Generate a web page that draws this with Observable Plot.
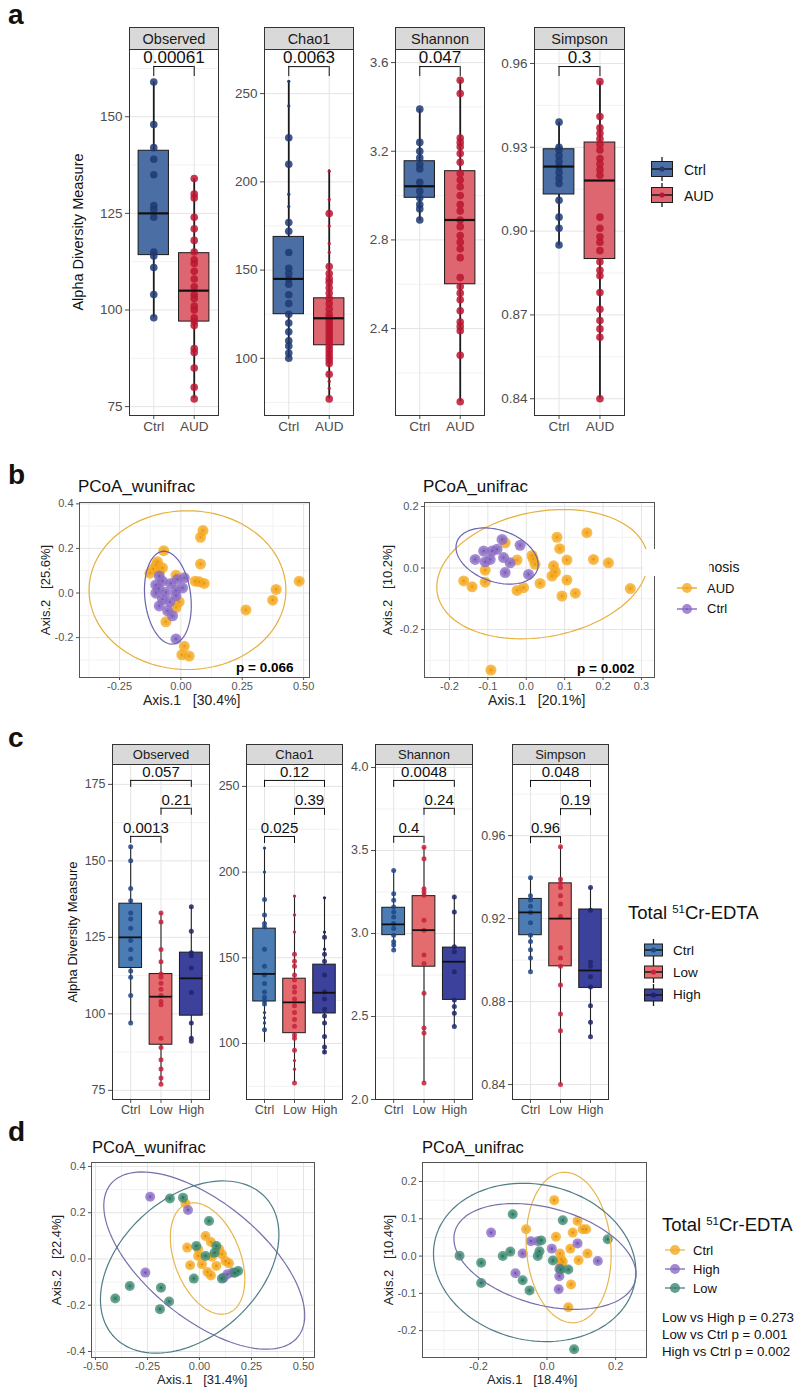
<!DOCTYPE html>
<html><head><meta charset="utf-8">
<script src="https://cdn.jsdelivr.net/npm/d3@7"></script>
<script src="https://cdn.jsdelivr.net/npm/@observablehq/plot@0.6"></script>
<style>
body{margin:0;background:#fff;}
#fig{position:relative;width:800px;height:1391px;overflow:hidden;background:#fff;font-family:'Liberation Sans',Arial,Helvetica,sans-serif;color:#111;}
.t{position:absolute;line-height:1;white-space:pre;}
.strip{position:absolute;background:#d9d9d9;border:1px solid #333;box-sizing:border-box;display:flex;align-items:center;justify-content:center;color:#1a1a1a;}
.rot{position:absolute;line-height:1;white-space:pre;transform:translate(-50%,-50%) rotate(-90deg);}
</style></head>
<body><div id="fig"></div>
<script>
// ---------------- DATA ----------------
// Panel a: Ctrl vs AUD
const groupsA = ["Ctrl", "AUD"];
const metricNames = ["Observed", "Chao1", "Shannon", "Simpson"];
const pA = ["0.00061", "0.0063", "0.047", "0.3"];
const aObsCtrl = [159, 148, 142, 139, 135, 127, 126, 124, 115, 114, 111, 104, 98];
const aObsAUD = [134, 130, 129, 124, 121, 118, 115, 113, 112, 110, 108, 106, 104, 103, 101, 100, 98, 97, 96, 90, 89, 85, 80, 77];
const aObsBox = [[98, 114.2, 125, 141.2, 159], [77, 97, 105, 114.7, 134]];
const aChaoCtrl = [225, 210, 177, 172, 160, 151, 148, 145, 142, 136, 131, 125, 120, 115, 110, 107, 103, 100];
const aChaoCtrlSe = [257, 243, 193, 186];
const aChaoAUD = [182, 152, 148, 145, 143, 140, 137, 134, 131, 128, 125, 123, 121, 119, 117, 115, 113, 111, 109, 107, 105, 103, 101, 99, 97, 91, 77];
const aChaoAUDSe = [206, 190, 175, 165, 160, 87, 83];
const aChaoBox = [[100, 125, 145, 168.8, 257], [77, 107.4, 122.7, 134, 206.8]];
const aShanCtrl = [3.39, 3.24, 3.20, 3.17, 3.14, 3.12, 3.06, 3.02, 2.99, 2.96, 2.94, 2.89];
const aShanAUD = [3.52, 3.46, 3.26, 3.24, 3.22, 3.19, 3.15, 3.10, 3.07, 3.04, 3.0, 2.96, 2.93, 2.89, 2.86, 2.82, 2.79, 2.76, 2.72, 2.63, 2.59, 2.56, 2.53, 2.48, 2.43, 2.41, 2.39, 2.28, 2.07];
const aShanBox = [[2.886, 2.99, 3.042, 3.155, 3.39], [2.07, 2.60, 2.89, 3.11, 3.52]];
const aSimpCtrl = [0.939, 0.930, 0.929, 0.927, 0.925, 0.923, 0.921, 0.919, 0.917, 0.911, 0.905, 0.901, 0.895];
const aSimpAUD = [0.9535, 0.941, 0.937, 0.935, 0.933, 0.931, 0.929, 0.926, 0.924, 0.922, 0.920, 0.905, 0.901, 0.898, 0.896, 0.893, 0.889, 0.886, 0.884, 0.878, 0.872, 0.868, 0.865, 0.862, 0.84];
const aSimpBox = [[0.8948, 0.9131, 0.9231, 0.9293, 0.9389], [0.84, 0.890, 0.9181, 0.9317, 0.9535]];
const aBracketY = [163, 265.3, 3.582, 0.9589];

// Panel b: PCoA by diagnosis
const bWunifracAUD = [[0.09,0.28],[0.08,0.25],[-0.07,0.19],[0.08,0.13],[-0.10,0.127],[-0.113,0.108],[-0.088,0.093],[-0.075,0.113],[-0.02,0.08],[0.058,0.053],[0.095,0.043],[0.482,0.053],[0.388,0.016],[0.374,-0.032],[0.265,-0.076],[-0.007,-0.04],[-0.02,-0.065],[-0.061,-0.129],[0.014,-0.239],[0.004,-0.277],[0.034,-0.283],[-0.126,0.089],[0.075,0.05],[-0.095,0.14]];
const bWunifracCtrl = [[-0.102,0.036],[-0.075,0.053],[-0.041,0.043],[-0.014,0.061],[0.014,0.068],[-0.102,-0.001],[-0.061,0.003],[-0.02,0.012],[0.007,0.023],[-0.088,-0.058],[-0.054,-0.08],[-0.034,-0.102],[-0.075,-0.028],[-0.02,-0.013],[-0.02,-0.206],[-0.088,0.076],[-0.045,-0.04],[-0.09,0.02]];
const bUnifracAUD = [[0.08,0.10],[0.158,0.115],[0.087,0.063],[0.106,0.026],[0.175,0.028],[0.214,0.017],[-0.024,0.026],[-0.107,-0.007],[0.015,0.041],[0.023,0.012],[0.071,0.007],[0.076,-0.013],[0.067,-0.026],[0.106,-0.039],[0.036,-0.05],[-0.163,-0.042],[-0.141,-0.061],[-0.107,-0.046],[-0.024,-0.073],[-0.007,-0.064],[0.093,-0.091],[0.128,-0.082],[0.271,-0.067],[-0.092,-0.332],[-0.055,0.082],[0.018,0.03]];
const bUnifracCtrl = [[-0.063,0.093],[-0.111,0.055],[-0.133,0.028],[-0.094,0.028],[-0.076,0.061],[-0.059,0.034],[-0.042,0.017],[-0.055,-0.015],[-0.016,0.074],[0.006,-0.021],[-0.089,0.055],[-0.107,0.02]];
// ellipses: [cx, cy, ax, ay, bx, by] (centre + two conjugate semi-axes)
const bWunifracEllAUD = [0.027, 0.013, 0.401, 0, 0, 0.356];
const bWunifracEllCtrl = [-0.053, -0.021, 0.094, 0, -0.016, 0.208];
const bUnifracEllAUD = [0.042, -0.02, 0.275, 0.042, 0, 0.206];
const bUnifracEllCtrl = [-0.076, 0.039, 0.107, -0.028, 0, 0.087];

// Panel c: Ctrl / Low / High
const groupsC = ["Ctrl", "Low", "High"];
const cObsCtrl = [154.6, 150, 141, 137, 133, 131, 128, 124, 121, 118, 114, 112, 106, 97];
const cObsLow = [133, 130, 121, 117, 113, 112, 110, 108, 106, 104, 103, 92, 89, 85, 82, 79, 77];
const cObsHigh = [135, 127, 120, 119, 115, 107, 97, 92, 91];
const cObsBox = [[97, 115, 125, 136, 154.6], [77, 89.9, 105.6, 113, 133], [91, 99.4, 111.6, 120, 135]];
const cChaoCtrl = [184, 175, 170, 168, 155, 145, 140, 135, 130, 127, 125, 123, 108];
const cChaoLow = [152, 148, 145, 140, 137, 133, 130, 126, 122, 118, 114, 110, 105, 103, 96, 77];
const cChaoHigh = [162, 152, 148, 140, 130, 126, 120, 116, 112, 104, 98, 95];
const cChaoSeCtrl = [214, 200, 118, 115, 112];
const cChaoSeLow = [186, 175, 165, 90, 85];
const cChaoSeHigh = [185, 165, 155];
const cChaoBox = [[100.6, 124.5, 140.6, 167, 214], [77, 106, 124, 137.8, 186], [93.6, 117.5, 129.6, 146, 185]];
const cShanCtrl = [3.38, 3.24, 3.20, 3.16, 3.13, 3.10, 3.06, 3.03, 2.99, 2.95, 2.93, 2.90];
const cShanLow = [3.52, 3.45, 3.27, 3.25, 3.23, 3.08, 3.02, 2.87, 2.82, 2.64, 2.43, 2.40, 2.1];
const cShanHigh = [3.22, 3.13, 2.92, 2.89, 2.77, 2.60, 2.56, 2.52, 2.44];
const cShanBox = [[2.9, 2.99, 3.055, 3.155, 3.38], [2.1, 2.80, 3.02, 3.225, 3.52], [2.44, 2.6, 2.83, 2.915, 3.22]];
const cSimpCtrl = [0.9397, 0.931, 0.929, 0.926, 0.923, 0.918, 0.912, 0.909, 0.905, 0.901, 0.8944];
const cSimpLow = [0.9547, 0.939, 0.937, 0.935, 0.931, 0.927, 0.921, 0.906, 0.901, 0.897, 0.888, 0.874, 0.866, 0.84];
const cSimpHigh = [0.935, 0.924, 0.899, 0.897, 0.892, 0.887, 0.878, 0.870, 0.863];
const cSimpBox = [[0.8944, 0.912, 0.923, 0.9295, 0.9397], [0.84, 0.897, 0.92, 0.937, 0.9547], [0.863, 0.8866, 0.895, 0.9244, 0.935]];
// brackets: [fromIndex, toIndex, y, label]
const cObsBr = [[0, 2, 176.3, "0.057"], [1, 2, 167.2, "0.21"], [0, 1, 158.0, "0.0013"]];
const cChaoBr = [[0, 2, 253.5, "0.12"], [1, 2, 237.2, "0.39"], [0, 1, 220.8, "0.025"]];
const cShanBr = [[0, 2, 3.922, "0.0048"], [1, 2, 3.754, "0.24"], [0, 1, 3.585, "0.4"]];
const cSimpBr = [[0, 2, 0.9866, "0.048"], [1, 2, 0.9730, "0.19"], [0, 1, 0.9595, "0.96"]];

// Panel d: PCoA by 51Cr-EDTA group
const dWunifracCtrl = [[-0.067,0.24],[0.029,0.099],[0.055,0.073],[-0.059,0.049],[-0.006,0.042],[0.095,0.042],[0.108,0.02],[-0.045,-0.027],[0.012,-0.023],[0.142,-0.019],[0.038,-0.056],[0.055,-0.071],[-0.006,0.013],[0.125,-0.009],[0.081,-0.03],[0.06,0.01]];
const dWunifracHigh = [[-0.237,0.269],[-0.055,0.212],[-0.26,-0.059],[0.134,-0.066],[0.16,-0.059],[0.116,-0.081]];
const dWunifracLow = [[-0.142,0.261],[-0.079,0.265],[0.046,0.164],[-0.015,0.056],[0.073,0.027],[0.029,0.013],[-0.027,-0.085],[0.108,-0.085],[-0.335,-0.117],[-0.405,-0.171],[-0.185,-0.124],[-0.146,-0.184],[-0.19,-0.217],[0.186,-0.052],[0.081,0.056],[0.17,-0.06]];
const dUnifracCtrl = [[0.021,0.150],[-0.061,0.072],[0.026,0.052],[0.089,0.094],[0.075,0.063],[0.104,0.072],[0.114,0.072],[0.068,0.020],[0.038,0.007],[0.092,-0.011],[0.118,0.007],[0.041,-0.009],[0.041,-0.022],[0.07,-0.076],[0.062,-0.137],[0.046,-0.015]];
const dUnifracHigh = [[-0.163,0.063],[-0.047,0.040],[0.089,0.034],[0.014,0.02],[-0.071,0.007],[0.148,-0.013],[-0.092,-0.046],[0.036,-0.034],[0.036,-0.054],[0.034,-0.089],[-0.027,0.04]];
const dUnifracLow = [[-0.10,0.112],[0.046,0.096],[0.177,0.045],[-0.017,0.042],[-0.255,0.001],[-0.192,-0.018],[-0.107,0.012],[-0.129,0.0],[-0.022,0.013],[-0.027,0.0],[0.017,-0.012],[-0.192,-0.072],[-0.071,-0.065],[-0.051,-0.092],[0.062,-0.036],[0.079,-0.25],[0.04,-0.036]];
const dWunifracEllCtrl = [0.039, 0.002, 0.179, -0.091, 0, 0.223];
const dWunifracEllHigh = [0.023, -0.007, 0.483, -0.237, 0, 0.301];
const dWunifracEllLow = [-0.047, -0.035, 0.429, 0.140, 0, 0.345];
const dUnifracEllCtrl = [0.063, 0.023, 0.124, -0.019, 0, 0.201];
const dUnifracEllHigh = [-0.006, -0.001, 0.2655, -0.048, 0, 0.1335];
const dUnifracEllLow = [-0.036, -0.017, 0.295, -0.024, 0, 0.211];
const dStats = ["Low vs High p = 0.273", "Low vs Ctrl p = 0.001", "High vs Ctrl p = 0.002"];

// ---------------- DRAWING ----------------
const FONT = "'Liberation Sans', Arial, Helvetica, sans-serif";
const fig = document.getElementById("fig");
function addHTML(html, cls, css) {
  const d = document.createElement("div");
  d.className = cls; d.innerHTML = html; d.style.cssText += css; fig.appendChild(d); return d;
}
function addNode(node, left, top) {
  const d = document.createElement("div");
  d.style.cssText = `position:absolute;left:${left}px;top:${top}px;line-height:0;`;
  d.appendChild(node); fig.appendChild(d);
}
function text(str, left, baseline, size, extra = "") {
  return addHTML(str, "t", `left:${left}px;top:${baseline - 0.847 * size}px;font-size:${size}px;${extra}`);
}

function boxPanel(o) {
  const mL = 50, mB = 30, mR = 2, n = o.cats.length;
  const idx = d3.range(1, n + 1);
  const boxes = o.boxes.map((b, i) => ({x: i + 1, lo: b[0], q1: b[1], med: b[2], q3: b[3], hi: b[4]}));
  const tk = o.tickPx * (o.domain[1] - o.domain[0]) / o.h;
  const br = o.brackets.map(([a, b, y, label]) => ({x1: a + 1, x2: b + 1, xm: (a + b + 2) / 2, y, y2: y - tk, label}));
  const hw = 0.375;
  const marks = [
    Plot.ruleY(o.minor, {stroke: "#f2f2f2"}),
    Plot.ruleY(o.ticks, {stroke: "#e4e4e4"}),
    Plot.ruleX(idx, {stroke: "#e4e4e4"})
  ];
  boxes.forEach((b, i) => {
    marks.push(Plot.ruleX([b], {x: "x", y1: "lo", y2: "hi", stroke: o.whisker, strokeWidth: o.ww}));
    marks.push(Plot.rect([b], {x1: d => d.x - hw, x2: d => d.x + hw, y1: "q1", y2: "q3", fill: o.fills[i], stroke: "#1a1a1a", strokeWidth: 1}));
  });
  if (o.small) o.small.forEach((arr, i) => marks.push(Plot.dot(arr, {x: () => i + 1, y: d => d, r: 1.6, fill: o.dots[i]})));
  o.pts.forEach((arr, i) => marks.push(Plot.dot(arr, {x: () => i + 1, y: d => d, r: o.r, fill: o.dots[i], fillOpacity: 0.85})));
  boxes.forEach(b => marks.push(Plot.ruleY([b], {y: "med", x1: d => d.x - hw, x2: d => d.x + hw, stroke: "#111", strokeWidth: o.mw})));
  marks.push(Plot.frame({stroke: "#333", strokeWidth: 1}));
  marks.push(Plot.ruleY(br, {y: "y", x1: "x1", x2: "x2", stroke: "#111", strokeWidth: 1}));
  marks.push(Plot.ruleX(br, {x: "x1", y1: "y", y2: "y2", stroke: "#111", strokeWidth: 1}));
  marks.push(Plot.ruleX(br, {x: "x2", y1: "y", y2: "y2", stroke: "#111", strokeWidth: 1}));
  marks.push(Plot.text(br, {x: "xm", y: "y", text: "label", dy: -o.textGap, fontSize: o.pFont, fill: "#111", lineAnchor: "middle"}));
  const svg = Plot.plot({
    width: mL + o.w + mR, height: o.h + mB,
    marginLeft: mL, marginRight: mR, marginTop: 0, marginBottom: mB,
    style: {fontFamily: FONT, fontSize: o.tickFont + "px", color: "#4d4d4d", background: "transparent", overflow: "visible"},
    x: {domain: [0.4, n + 0.6], ticks: idx, tickFormat: i => o.cats[i - 1], tickSize: 4, tickPadding: 2, label: null},
    y: {domain: o.domain, ticks: o.ticks, tickFormat: o.fmt, tickSize: 4, tickPadding: 3, label: null},
    marks
  });
  addNode(svg, o.left - mL, o.top);
  addHTML(o.strip, "strip", `left:${o.left}px;top:${o.top - o.stripH}px;width:${o.w + 1}px;height:${o.stripH + 1}px;font-size:${o.stripFont}px;`);
}

function ellipsePts(e) {
  return d3.range(0, 121).map(k => {
    const t = 2 * Math.PI * k / 120;
    return {x: e[0] + e[2] * Math.cos(t) + e[4] * Math.sin(t), y: e[1] + e[3] * Math.cos(t) + e[5] * Math.sin(t)};
  });
}

function pcoa(o) {
  const mL = 40, mB = 24, mR = 2, mT = 2;
  const marks = [
    Plot.ruleY(o.yMinor, {stroke: "#f2f2f2"}), Plot.ruleX(o.xMinor, {stroke: "#f2f2f2"}),
    Plot.ruleY(o.yTicks, {stroke: "#e4e4e4"}), Plot.ruleX(o.xTicks, {stroke: "#e4e4e4"})
  ];
  o.groups.forEach(g => {
    marks.push(Plot.dot(g.pts, {x: d => d[0], y: d => d[1], r: o.r, fill: g.color, fillOpacity: 0.78}));
    marks.push(Plot.dot(g.pts, {x: d => d[0], y: d => d[1], r: o.r * 0.6, fill: g.color, fillOpacity: 0.6}));
    marks.push(Plot.dot(g.pts, {x: d => d[0], y: d => d[1], r: 1.1, fill: g.dark, fillOpacity: 0.7}));
  });
  o.ells.forEach(e => marks.push(Plot.line(ellipsePts(e.p), {x: "x", y: "y", stroke: e.color, strokeWidth: 1.2})));
  marks.push(Plot.frame({stroke: "#555", strokeWidth: 1}));
  if (o.p) marks.push(Plot.text([o.p], {frameAnchor: "bottom-right", text: d => d, dx: o.pdx, dy: o.pdy, textAnchor: "end", lineAnchor: "middle", fontWeight: "bold", fontSize: 13.5, fill: "#000"}));
  const svg = Plot.plot({
    width: mL + o.w + mR, height: mT + o.h + mB,
    marginLeft: mL, marginRight: mR, marginTop: mT, marginBottom: mB,
    style: {fontFamily: FONT, fontSize: "11px", color: "#555", background: "transparent", overflow: "visible"},
    x: {domain: o.xDomain, ticks: o.xTicks, tickFormat: d => d.toFixed(o.xDec), tickSize: 3, tickPadding: 2, label: null},
    y: {domain: o.yDomain, ticks: o.yTicks, tickFormat: d => d.toFixed(o.yDec), tickSize: 3, tickPadding: 3, label: null},
    marks
  });
  addNode(svg, o.left - mL, o.top - mT);
}

// ---- panel letters ----
text("a", 8, 25, 28, "font-weight:bold;");
text("b", 8, 485, 28, "font-weight:bold;");
text("c", 8, 748, 28, "font-weight:bold;");
text("d", 8, 1142, 28, "font-weight:bold;");

// ---- Panel a ----
const colA = {fills: ["#4b6ea5", "#de6670"], dots: ["#1f3a72", "#bb1530"]};
const aCommon = {cats: groupsA, top: 49, h: 366, stripH: 22, stripFont: 14.5, tickFont: 13.5, pFont: 17, textGap: 9, tickPx: 10,
  r: 3.8, ww: 1.8, mw: 2.2, whisker: "#1a1a1a", fills: colA.fills, dots: colA.dots};
boxPanel({...aCommon, left: 129, w: 89, strip: metricNames[0], domain: [72.7, 167.4], ticks: [75, 100, 125, 150], minor: [87.5, 112.5, 137.5, 162.5], fmt: d3.format("d"),
  boxes: aObsBox, pts: [aObsCtrl, aObsAUD], brackets: [[0, 1, aBracketY[0], pA[0]]]});
boxPanel({...aCommon, left: 264, w: 89, strip: metricNames[1], domain: [67.6, 275], ticks: [100, 150, 200, 250], minor: [75, 125, 175, 225, 275], fmt: d3.format("d"),
  boxes: aChaoBox, pts: [aChaoCtrl, aChaoAUD], small: [aChaoCtrlSe, aChaoAUDSe], brackets: [[0, 1, aBracketY[1], pA[1]]]});
boxPanel({...aCommon, left: 395, w: 89, strip: metricNames[2], domain: [2.008, 3.659], ticks: [2.4, 2.8, 3.2, 3.6], minor: [2.2, 2.6, 3.0, 3.4], fmt: d3.format(".1f"),
  boxes: aShanBox, pts: [aShanCtrl, aShanAUD], brackets: [[0, 1, aBracketY[2], pA[2]]]});
boxPanel({...aCommon, left: 534, w: 90, strip: metricNames[3], domain: [0.834, 0.965], ticks: [0.84, 0.87, 0.90, 0.93, 0.96], minor: [0.855, 0.885, 0.915, 0.945], fmt: d3.format(".2f"),
  boxes: aSimpBox, pts: [aSimpCtrl, aSimpAUD], brackets: [[0, 1, aBracketY[3], pA[3]]]});
addHTML("Alpha Diversity Measure", "rot", "left:78px;top:232px;font-size:14.5px;color:#111;");

function boxKey(fill, dot, w, h, boxH) {
  const cx = w / 2, cy = h / 2;
  return `<svg width="${w}" height="${h}" style="display:block"><line x1="${cx}" x2="${cx}" y1="0" y2="${h}" stroke="#1a1a1a" stroke-width="1.3"/>` +
    `<rect x="0.5" y="${cy - boxH / 2}" width="${w - 1}" height="${boxH}" fill="${fill}" stroke="#1a1a1a"/>` +
    `<line x1="0.5" x2="${w - 0.5}" y1="${cy}" y2="${cy}" stroke="#1a1a1a" stroke-width="1.5"/><circle cx="${cx}" cy="${cy}" r="2.6" fill="${dot}"/></svg>`;
}
[169, 194.5].forEach((cy, i) => {
  addHTML(boxKey(colA.fills[i], colA.dots[i], 22, 24, 15), "t", `left:651px;top:${cy - 12}px;`);
  text(groupsA[i], 684, cy + 6, 14);
});

// ---- Panel b ----
const ORANGE = "#f5a81f", PURPLE = "#8b6cc4", GREEN = "#3c8a72";
pcoa({left: 79, top: 502, w: 230, h: 175, xDomain: [-0.413, 0.524], yDomain: [-0.379, 0.406],
  xTicks: [-0.25, 0, 0.25, 0.5], yTicks: [-0.2, 0, 0.2, 0.4], xMinor: [-0.375, -0.125, 0.125, 0.375], yMinor: [-0.3, -0.1, 0.1, 0.3], xDec: 2, yDec: 1, r: 5.5,
  groups: [{pts: bWunifracAUD, color: ORANGE, dark: "#d98a00"}, {pts: bWunifracCtrl, color: PURPLE, dark: "#6a4aa8"}],
  ells: [{p: bWunifracEllAUD, color: "#e6b03a"}, {p: bWunifracEllCtrl, color: "#6b62b0"}],
  p: "p = 0.066", pdx: -16, pdy: -10});
pcoa({left: 424, top: 502, w: 230, h: 175, xDomain: [-0.265, 0.334], yDomain: [-0.356, 0.213],
  xTicks: [-0.2, -0.1, 0, 0.1, 0.2, 0.3], yTicks: [-0.2, 0, 0.2], xMinor: [-0.25, -0.15, -0.05, 0.05, 0.15, 0.25], yMinor: [-0.3, -0.1, 0.1], xDec: 1, yDec: 1, r: 5.5,
  groups: [{pts: bUnifracAUD, color: ORANGE, dark: "#d98a00"}, {pts: bUnifracCtrl, color: PURPLE, dark: "#6a4aa8"}],
  ells: [{p: bUnifracEllAUD, color: "#e6b03a"}, {p: bUnifracEllCtrl, color: "#6b62b0"}],
  p: "p = 0.002", pdx: -20, pdy: -9});
text("PCoA_wunifrac", 78, 492, 17);
text("PCoA_unifrac", 423, 492, 17);
text("Axis.1   [30.4%]", 143, 705, 14, "color:#222;");
text("Axis.1   [20.1%]", 488, 705, 14, "color:#222;");
addHTML("Axis.2   [25.6%]", "rot", "left:45px;top:590px;font-size:13px;color:#222;");
addHTML("Axis.2   [10.2%]", "rot", "left:387px;top:590px;font-size:13px;color:#222;");
function dotKey(color, lineColor) {
  return `<svg width="20" height="12" style="display:block"><line x1="0" x2="20" y1="6" y2="6" stroke="${lineColor}" stroke-width="1.3"/>` +
    `<circle cx="10" cy="6" r="5" fill="${color}" fill-opacity="0.8"/><circle cx="10" cy="6" r="1.1" fill="${lineColor}"/></svg>`;
}
text("Diagnosis", 678, 572, 14);
addHTML("", "t", "left:643px;top:549px;width:66px;height:27px;background:#fff;");
addHTML(dotKey(ORANGE, "#e6a320"), "t", "left:677px;top:582px;");
addHTML(dotKey(PURPLE, "#7a62b8"), "t", "left:677px;top:603px;");
text("AUD", 707, 593, 13);
text("Ctrl", 707, 613, 13);

// ---- Panel c ----
const colC = {fills: ["#4b7db4", "#e56c6e", "#3c429c"], dots: ["#1e4585", "#c8213a", "#1d2468"]};
const cCommon = {cats: groupsC, top: 764, h: 335, stripH: 20, stripFont: 13, tickFont: 12.5, pFont: 15, textGap: 8, tickPx: 7,
  r: 2.5, ww: 1.1, mw: 1.8, whisker: "#222", fills: colC.fills, dots: colC.dots};
boxPanel({...cCommon, left: 112, w: 97, strip: metricNames[0], domain: [72, 181.5], ticks: [75, 100, 125, 150, 175], minor: [87.5, 112.5, 137.5, 162.5], fmt: d3.format("d"),
  boxes: cObsBox, pts: [cObsCtrl, cObsLow, cObsHigh], brackets: cObsBr});
boxPanel({...cCommon, left: 246, w: 96, strip: metricNames[1], domain: [67.3, 262.8], ticks: [100, 150, 200, 250], minor: [75, 125, 175, 225], fmt: d3.format("d"),
  boxes: cChaoBox, pts: [cChaoCtrl, cChaoLow, cChaoHigh], small: [cChaoSeCtrl, cChaoSeLow, cChaoSeHigh], brackets: cChaoBr});
boxPanel({...cCommon, left: 375, w: 97, strip: metricNames[2], domain: [2.0, 4.018], ticks: [2.0, 2.5, 3.0, 3.5, 4.0], minor: [2.25, 2.75, 3.25, 3.75], fmt: d3.format(".1f"),
  boxes: cShanBox, pts: [cShanCtrl, cShanLow, cShanHigh], brackets: cShanBr});
boxPanel({...cCommon, left: 512, w: 96, strip: metricNames[3], domain: [0.8328, 0.9943], ticks: [0.84, 0.88, 0.92, 0.96], minor: [0.86, 0.90, 0.94, 0.98], fmt: d3.format(".2f"),
  boxes: cSimpBox, pts: [cSimpCtrl, cSimpLow, cSimpHigh], brackets: cSimpBr});
addHTML("Alpha Diversity Measure", "rot", "left:72px;top:932px;font-size:13px;color:#111;");
text("Total <sup style='font-size:0.62em;vertical-align:0.55em;line-height:0'>51</sup>Cr-EDTA", 628, 920, 18.5);
[950, 972, 994.5].forEach((cy, i) => {
  addHTML(boxKey(colC.fills[i], colC.dots[i], 19, 22, 12), "t", `left:644px;top:${cy - 11}px;`);
  text(groupsC[i], 673, cy + 5, 13.5);
});

// ---- Panel d ----
pcoa({left: 91, top: 1162, w: 223, h: 195, xDomain: [-0.519, 0.553], yDomain: [-0.426, 0.417],
  xTicks: [-0.5, -0.25, 0, 0.25, 0.5], yTicks: [-0.4, -0.2, 0, 0.2, 0.4], xMinor: [-0.375, -0.125, 0.125, 0.375], yMinor: [-0.3, -0.1, 0.1, 0.3], xDec: 2, yDec: 1, r: 5,
  groups: [{pts: dWunifracCtrl, color: ORANGE, dark: "#c98000"}, {pts: dWunifracHigh, color: PURPLE, dark: "#5a3d99"}, {pts: dWunifracLow, color: GREEN, dark: "#1f5a48"}],
  ells: [{p: dWunifracEllCtrl, color: "#e8b64c"}, {p: dWunifracEllHigh, color: "#7470aa"}, {p: dWunifracEllLow, color: "#4f7c86"}]});
pcoa({left: 422, top: 1162, w: 224, h: 195, xDomain: [-0.363, 0.290], yDomain: [-0.272, 0.251],
  xTicks: [-0.2, 0, 0.2], yTicks: [-0.2, -0.1, 0, 0.1, 0.2], xMinor: [-0.3, -0.1, 0.1], yMinor: [-0.25, -0.15, -0.05, 0.05, 0.15, 0.25], xDec: 1, yDec: 1, r: 5,
  groups: [{pts: dUnifracCtrl, color: ORANGE, dark: "#c98000"}, {pts: dUnifracHigh, color: PURPLE, dark: "#5a3d99"}, {pts: dUnifracLow, color: GREEN, dark: "#1f5a48"}],
  ells: [{p: dUnifracEllCtrl, color: "#e8b64c"}, {p: dUnifracEllHigh, color: "#7470aa"}, {p: dUnifracEllLow, color: "#4f7c86"}]});
text("PCoA_wunifrac", 92, 1153, 16.5);
text("PCoA_unifrac", 422, 1153, 16.5);
text("Axis.1   [31.4%]", 157, 1384, 13, "color:#222;");
text("Axis.1   [18.4%]", 487, 1384, 13, "color:#222;");
addHTML("Axis.2   [22.4%]", "rot", "left:56px;top:1260px;font-size:13px;color:#222;");
addHTML("Axis.2   [10.4%]", "rot", "left:388px;top:1260px;font-size:13px;color:#222;");
text("Total <sup style='font-size:0.62em;vertical-align:0.55em;line-height:0'>51</sup>Cr-EDTA", 662, 1231.7, 18.5);
const dKeys = [["Ctrl", ORANGE, "#e8b64c"], ["High", PURPLE, "#7470aa"], ["Low", GREEN, "#4f7c86"]];
[1250, 1269, 1288].forEach((cy, i) => {
  addHTML(dotKey(dKeys[i][1], dKeys[i][2]), "t", `left:665px;top:${cy - 6}px;`);
  text(dKeys[i][0], 693, cy + 5, 13);
});
[1322.7, 1339.3, 1356].forEach((b, i) => text(dStats[i], 662, b, 13.3));
</script>
</body></html>
